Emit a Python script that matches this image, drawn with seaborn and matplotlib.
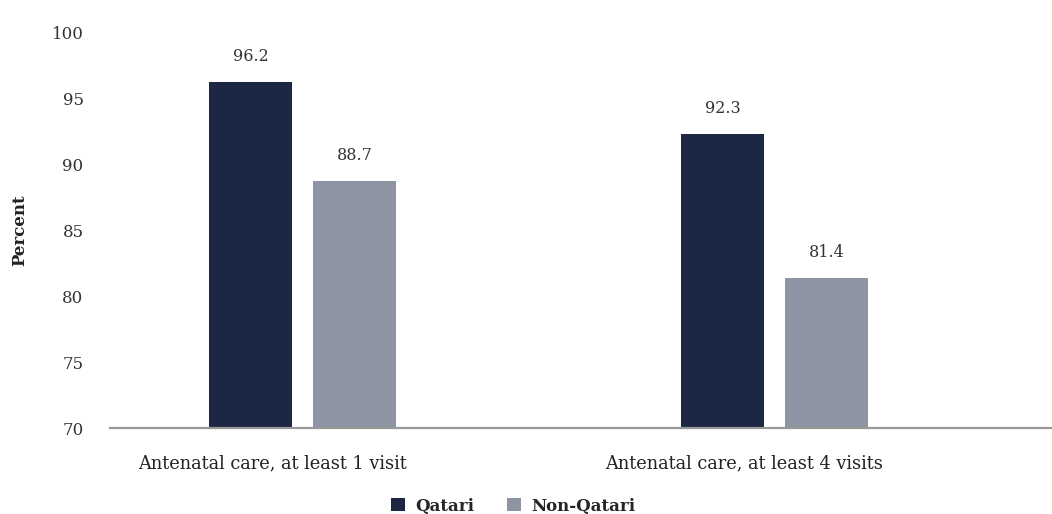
import matplotlib
matplotlib.use("Agg")
import matplotlib.pyplot as plt
import matplotlib.transforms as mtransforms
from matplotlib.patches import Patch
import pandas as pd
import seaborn as sns

categories = ["Antenatal care, at least 1 visit", "Antenatal care, at least 4 visits"]
groups = ["Qatari", "Non-Qatari"]
qatari = [96.2, 92.3]
non_qatari = [88.7, 81.4]
y_ticks = [70, 75, 80, 85, 90, 95, 100]

colors = {"Qatari": "#1c2744", "Non-Qatari": "#8e94a3"}

df = pd.DataFrame({
    "category": categories * 2,
    "group": ["Qatari"] * 2 + ["Non-Qatari"] * 2,
    "value": qatari + non_qatari,
})

sns.set_theme(style="white")
plt.rcParams["font.family"] = ["DejaVu Serif"]

fig = plt.figure(figsize=(10.52, 5.14), dpi=100)
ax = fig.add_axes([110 / 1052, 1 - 428 / 514, 1 - 110 / 1052, (428 - 32) / 514])

sns.barplot(data=df, x="category", y="value", hue="group", hue_order=groups,
            order=categories, palette=colors, width=0.44, gap=0.2,
            saturation=1, linewidth=0, ax=ax, legend=False)

ax.set_ylim(70, 100)
ax.set_xlim(-0.408, 1.588)
ax.set_yticks(y_ticks)
ax.set_yticklabels([str(t) for t in y_ticks], fontsize=12, color="#333333")
ax.tick_params(axis="y", length=0, pad=19)
ax.tick_params(axis="x", length=0, pad=19)
ax.set_xticks(range(len(categories)))
ax.set_xticklabels(categories, fontsize=12.8, color="#222222")
shift = mtransforms.ScaledTranslation(-30 / 100, 0, fig.dpi_scale_trans)
for lbl in ax.get_xticklabels():
    lbl.set_transform(lbl.get_transform() + shift)

ax.set_xlabel("")
ax.set_ylabel("Percent", fontsize=12, fontweight="bold", color="#222222")
ax.yaxis.set_label_coords(-82 / 942, 0.5)

for side in ["top", "right", "left"]:
    ax.spines[side].set_visible(False)
ax.spines["bottom"].set_color("#999999")
ax.spines["bottom"].set_linewidth(1.6)
ax.grid(False)

for container in ax.containers:
    ax.bar_label(container, labels=[f"{v:.1f}" for v in container.datavalues],
                 padding=12, fontsize=11.5, color="#333333")

handles = [Patch(facecolor=colors[g], edgecolor="none") for g in groups]
fig.legend(handles, groups, loc="center", bbox_to_anchor=(513 / 1052, 1 - 506 / 514),
           ncol=2, frameon=False, handlelength=0.85, handleheight=0.85,
           handletextpad=0.6, columnspacing=2.0,
           prop={"family": "DejaVu Serif", "weight": "bold", "size": 12})

fig.savefig("out.png", dpi=100)
